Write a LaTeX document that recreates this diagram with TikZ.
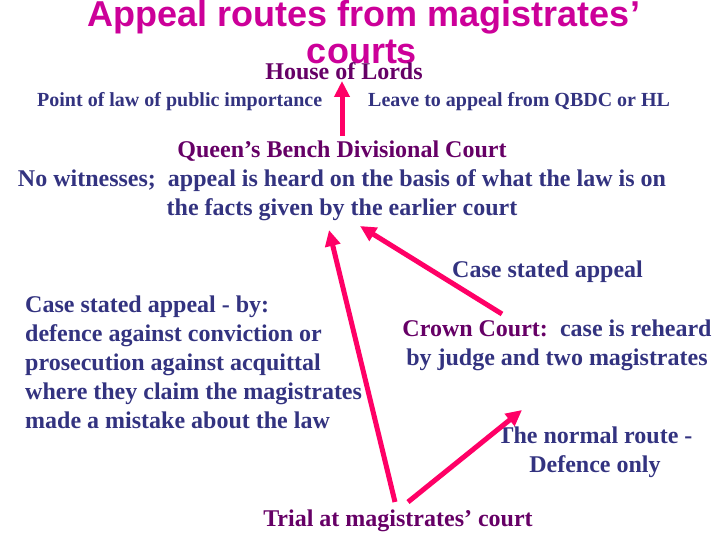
\documentclass[tikz,border=0pt]{standalone}
\usepackage{fontspec}
\setmainfont{Liberation Serif}
\newfontfamily\titlefont{Liberation Sans}
\usetikzlibrary{arrows.meta}
\definecolor{ttl}{HTML}{CC0099}
\definecolor{blu}{HTML}{333380}
\definecolor{pur}{HTML}{660066}
\definecolor{arr}{HTML}{FF0066}
\tikzset{
  txt/.style={inner sep=0pt, anchor=base, font=\bfseries\fontsize{24}{29}\selectfont, text=blu, align=center},
  small/.style={txt, font=\bfseries\fontsize{20}{24}\selectfont},
  court/.style={txt, text=pur},
  ttlnode/.style={inner sep=0pt, anchor=base, font=\titlefont\bfseries\fontsize{36}{36}\selectfont, text=ttl},
  route/.style={draw=arr, line width=5pt, -{Triangle[length=16pt,width=15pt]}}
}
\begin{document}
\begin{tikzpicture}[x=1pt,y=-1pt]
\useasboundingbox (0,0) rectangle (720,540);
\node[ttlnode] (t1) at (364,27) {Appeal routes from magistrates’};
\node[ttlnode] (t2) at (362,64) {courts};
\node[court] (hl) at (344,80) {House of Lords};
\node[small, anchor=base west] (pl) at (37,107) {Point of law of public importance};
\node[small, anchor=base west] (lv) at (368,107) {Leave to appeal from QBDC or HL};
\node[court] (qb) at (342,158) {Queen’s Bench Divisional Court};
\node[txt] (nw) at (342,187) {No witnesses;\ \ appeal is heard on the basis of what the law is on};
\node[txt] (fg) at (342,215) {the facts given by the earlier court};
\node[txt, anchor=base west] (cs) at (452,277) {Case stated appeal};
\node[txt, anchor=base west, align=left] (lb) at (25,428) {Case stated appeal - by:\\defence against conviction or\\prosecution against acquittal\\where they claim the magistrates\\made a mistake about the law};
\node[txt] (cc) at (557,365) {\textcolor{pur}{Crown Court:}\ \ case is reheard\\by judge and two magistrates};
\node[txt] (nr) at (595,472) {The normal route -\\Defence only};
\node[court] (mc) at (398,526) {Trial at magistrates’ court};
\coordinate (hlS) at (342,136);
\coordinate (hlT) at (342,81);
\coordinate (mA) at (395,502);
\coordinate (qA) at (329,230);
\coordinate (cA) at (502,314);
\coordinate (qB) at (360,226);
\coordinate (mB) at (408,502);
\coordinate (cB) at (522,410);
\draw[route] (hlS) -- (hlT);
\draw[route] (mA) -- (qA);
\draw[route] (cA) -- (qB);
\draw[route] (mB) -- (cB);
\end{tikzpicture}
\end{document}
